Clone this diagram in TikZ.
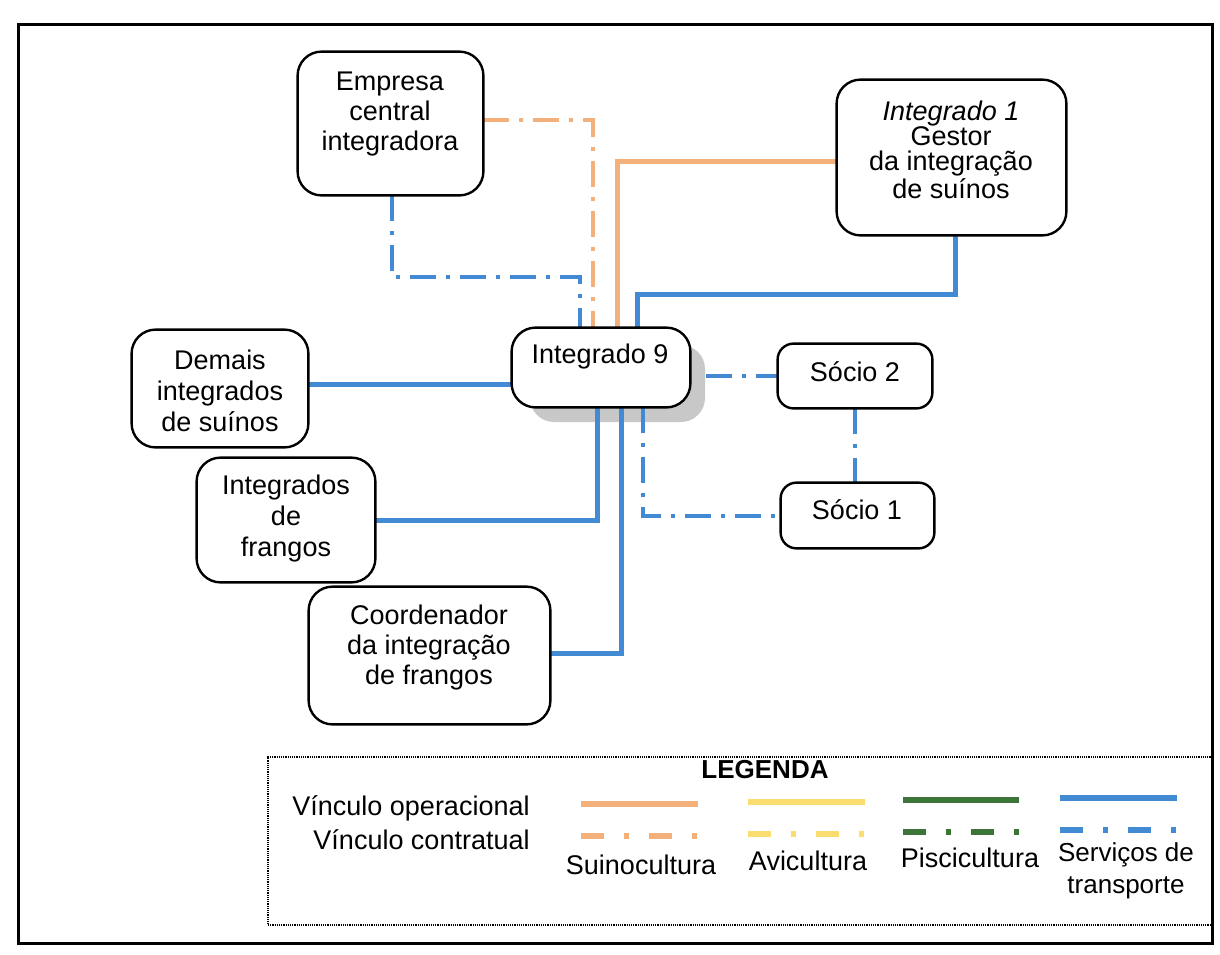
\documentclass[tikz,border=0pt]{standalone}
\usepackage{fontspec}
\setmainfont{Liberation Sans}
\usetikzlibrary{calc}
\definecolor{suino}{RGB}{244,176,122}
\definecolor{servico}{RGB}{66,138,212}
\definecolor{avi}{RGB}{250,221,110}
\definecolor{pisci}{RGB}{58,118,58}
\definecolor{sombra}{RGB}{200,200,200}

\begin{document}
\begin{tikzpicture}[x=0.5pt,y=-0.5pt,
  box/.style={draw=black, line width=1.2pt, rounded corners=12pt, fill=white, inner sep=0pt},
  smallbox/.style={box, rounded corners=8pt},
  anchorbox/.style={draw=none, fill=none, inner sep=0pt},
  txt/.style={align=center, inner sep=0pt, font=\fontsize{13.5}{15}\selectfont},
  op/.style={line width=2.5pt},
  ct/.style={line width=2pt, dash pattern=on 13pt off 5pt on 2pt off 5pt},
  legop/.style={line width=3pt},
  legct/.style={line width=3pt, dash pattern=on 11.5pt off 10pt on 2.5pt off 10pt},
]
\useasboundingbox (0,0) rectangle (1220,954);
% outer frame
\draw[line width=1.5pt] (18,24) rectangle (1212,943);

% shadow under the central box
\node[box, draw=none, fill=sombra, minimum width=87.5pt, minimum height=38.5pt] (sh) at (617.5,383.5) {};

% box outlines used as anchors for the connectors
\node[anchorbox, minimum width=89pt, minimum height=39.5pt] (in9) at (601,367.5) {};
\node[anchorbox, minimum width=92.5pt, minimum height=71.5pt] (emp) at (390.5,123.5) {};
\node[anchorbox, minimum width=114.5pt, minimum height=77.5pt] (int1) at (951.5,157.5) {};
\node[anchorbox, minimum width=88pt, minimum height=58.5pt] (dem) at (220,388.5) {};
\node[anchorbox, minimum width=89pt, minimum height=62pt] (fra) at (286,520) {};
\node[anchorbox, minimum width=120.5pt, minimum height=68.5pt] (coo) at (429.5,655.5) {};
\node[anchorbox, minimum width=77pt, minimum height=32pt] (s2) at (855,376) {};
\node[anchorbox, minimum width=76.5pt, minimum height=32.5pt] (s1) at (857.5,515.5) {};

% connectors
\draw[ct, suino] ($(emp.east)+(0,-3.5)$) -| ($(in9.north west)+(81,0)$);
\draw[ct, servico] ($(emp.south)+(1.5,0)$) -- ++(0,82) -| ($(in9.north west)+(68,0)$);
\draw[op, suino] ($(int1.west)+(0,3.5)$) -| ($(in9.north west)+(106,0)$);
\draw[op, servico] ($(int1.south)+(3.5,0)$) -- ++(0,59) -| ($(in9.north west)+(126,0)$);
\draw[op, servico] ($(dem.east)+(0,-4)$) coordinate (d1) -- (d1 -| in9.west);
\draw[op, servico] (fra.east) -| ($(in9.south west)+(86,0)$);
\draw[op, servico] ($(coo.east)+(0,-2.5)$) -| ($(in9.south west)+(110,0)$);
\draw[ct, servico] (sh.east |- s2.west) -- (s2.west);
\draw[ct, servico] ($(in9.south west)+(131,0)$) |- (s1.west);
\draw[ct, servico] (s2.south) -- (s2.south |- s1.north);

% visible boxes
\foreach \n in {in9,emp,int1,dem,fra,coo}
  \draw[box] (\n.south west) rectangle (\n.north east);
\foreach \n in {s2,s1}
  \draw[smallbox] (\n.south west) rectangle (\n.north east);

% texts
\node[txt] (emp-t) at (390,114) {Empresa\\central\\integradora};
\node[txt, font=\fontsize{13.5}{12.5}\selectfont] (int1-t) at (951,150) {\textit{Integrado 1}\\Gestor\\da integração\\de suínos};
\node[txt] (in9-t) at (600,357) {Integrado 9};
\node[txt, font=\fontsize{13.5}{15.5}\selectfont] (dem-t) at (220,391) {Demais\\integrados\\de suínos};
\node[txt, font=\fontsize{13.5}{15.5}\selectfont] (fra-t) at (286,519) {Integrados\\de\\frangos};
\node[txt] (coo-t) at (429,648) {Coordenador\\da integração\\de frangos};
\node[txt] (s2-t) at (855,372) {Sócio 2};
\node[txt] (s1-t) at (857,510) {Sócio 1};

% legend
\node[draw, line width=1pt, dash pattern=on 0.6pt off 0.5pt, minimum width=472.5pt, minimum height=84pt, inner sep=0pt] (leg) at (740.5,841) {};
\node[txt, font=\bfseries\fontsize{13}{15}\selectfont] (leg-t) at (765,770) {LEGENDA};
\node[txt, anchor=east] (lop) at (530,808) {Vínculo operacional};
\node[txt, anchor=east] (lct) at (530,840) {Vínculo contratual};

\draw[legop, suino] (581,804) -- (698,804);
\draw[legct, suino] (581,836) -- (698,836);
\draw[legop, avi] (748,802) -- (865,802);
\draw[legct, avi] (748,834) -- (865,834);
\draw[legop, pisci] (903,800) -- (1019,800);
\draw[legct, pisci] (903,832) -- (1019,832);
\draw[legop, servico] (1060,798) -- (1177,798);
\draw[legct, servico] (1060,830) -- (1177,830);

\node[txt] (l-sui) at (641,865) {Suinocultura};
\node[txt] (l-avi) at (808,861) {Avicultura};
\node[txt] (l-pis) at (970,858) {Piscicultura};
\node[txt, font=\fontsize{13}{16}\selectfont] (l-ser) at (1126,871) {Serviços de\\transporte};
\end{tikzpicture}
\end{document}
